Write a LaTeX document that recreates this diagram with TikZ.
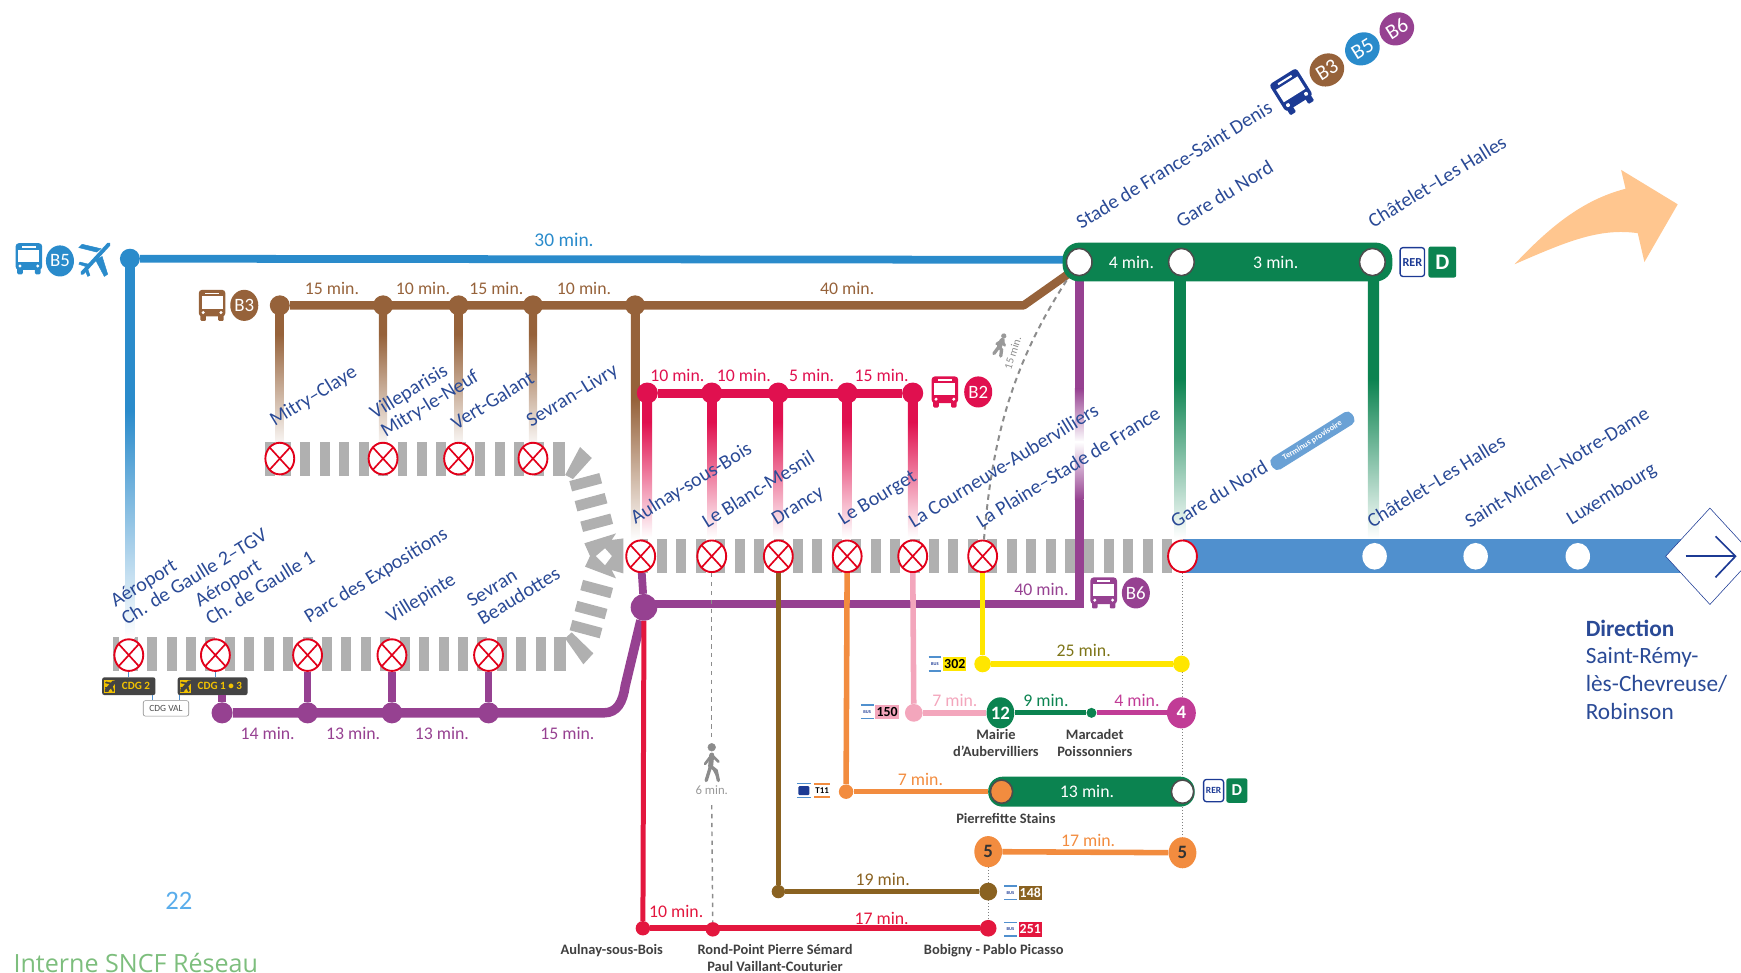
\documentclass[tikz,border=0pt]{standalone}
\usepackage{fontspec}
\setmainfont{Carlito}
\newfontfamily\footfont{Open Sans}
\usetikzlibrary{positioning,calc,backgrounds,shapes.geometric}

\definecolor{lineblue}{HTML}{2A8BCB}
\definecolor{barblue}{HTML}{5090CE}
\definecolor{linebrown}{HTML}{96623A}
\definecolor{linepink}{HTML}{E0104F}
\definecolor{linepurple}{HTML}{964191}
\definecolor{linegreen}{HTML}{0B8350}
\definecolor{stopred}{HTML}{E2001A}
\definecolor{linered}{HTML}{E3173E}
\definecolor{linemagenta}{HTML}{C13C96}
\definecolor{lineorange}{HTML}{F28C3F}
\definecolor{darkbrown}{HTML}{8A6221}
\definecolor{palepink}{HTML}{F3A6BC}
\definecolor{lineyellow}{HTML}{FFE600}
\definecolor{olivetext}{HTML}{7E7518}
\definecolor{stripegray}{HTML}{B0B0B0}
\definecolor{navytext}{HTML}{2A4A96}
\definecolor{busnavy}{HTML}{1C3A94}
\definecolor{peach}{HTML}{FFC68F}
\definecolor{cdgdark}{HTML}{444444}
\definecolor{cdgyellow}{HTML}{F2C200}
\definecolor{pagenum}{HTML}{5AADEB}
\definecolor{footgreen}{HTML}{7DBE7D}
\colorlet{fadebase}{black}

\pgfdeclareverticalshading[fadebase]{fadeshort}{100bp}{color(0bp)=(white); color(25bp)=(white); color(65bp)=(fadebase); color(100bp)=(fadebase)}
\pgfdeclareverticalshading[fadebase]{fadelong}{100bp}{color(0bp)=(white); color(25bp)=(white); color(55bp)=(fadebase); color(100bp)=(fadebase)}

\tikzset{
	stripe/.style={rectangle, fill=stripegray, minimum width=9pt, minimum height=30.5pt, inner sep=0},
	closedstop/.style={ellipse, draw=stopred, line width=1.7pt, fill=white,
		minimum width=26pt, minimum height=28.5pt, inner sep=0,
		path picture={\draw[stopred, line width=1.5pt]
			(path picture bounding box.north west) -- (path picture bounding box.south east)
			(path picture bounding box.north east) -- (path picture bounding box.south west);}},
	linedot/.style={circle, minimum size=18pt, inner sep=0, fill=#1},
	ring/.style={ellipse, draw=black!70, line width=1.4pt, fill=white, minimum width=23pt, minimum height=24.5pt, inner sep=0},
	whitedot/.style={ellipse, fill=white, minimum width=22pt, minimum height=24pt, inner sep=0},
	linecircle/.style={ellipse, fill=#1, text=white, minimum width=25pt, minimum height=28pt, inner sep=0,
		font=\fontsize{17}{17}\selectfont},
	stationlabel/.style={anchor=south west, rotate=31.5, inner sep=0, align=left, text=navytext,
		font=\fontsize{18}{19}\selectfont},
	timelabel/.style={inner sep=0, font=\fontsize{16}{17}\selectfont},
	smalllabel/.style={inner sep=0, align=center, text=black!75, font=\bfseries\fontsize{13}{15.5}\selectfont},
	greenbar/.style={rectangle, rounded corners=15pt, fill=linegreen, inner sep=0},
	rerbadge/.style={rectangle, rounded corners=2.5pt, draw=busnavy, line width=1.2pt, fill=white, text=busnavy, inner sep=0,
		font=\bfseries\fontsize{11}{11}\selectfont},
	dbadge/.style={rectangle, rounded corners=2pt, fill=linegreen, text=white, inner sep=0,
		font=\bfseries\fontsize{20}{20}\selectfont},
	busmark/.style={rectangle, inner sep=0, minimum width=11pt, minimum height=12pt, text=busnavy,
		font=\bfseries\fontsize{4}{4}\selectfont},
	busnum/.style={rectangle, inner sep=0, minimum width=21pt, minimum height=13pt,
		font=\bfseries\fontsize{12.5}{13}\selectfont},
	cdgbadge/.style={rectangle, rounded corners=2pt, fill=cdgdark, text=cdgyellow, inner sep=0, minimum height=16pt,
		font=\bfseries\fontsize{10}{10}\selectfont},
	cdgicon/.style={rectangle, fill=cdgyellow, inner sep=0, minimum width=10pt, minimum height=12pt},
	buspic/.pic={
		\fill[pic actions, rounded corners=3pt] (-12,-14) rectangle (12,10);
		\fill[pic actions, rounded corners=1pt] (-10.5,8) rectangle (-5.5,14);
		\fill[pic actions, rounded corners=1pt] (5.5,8) rectangle (10.5,14);
		\fill[white] (-9.5,-8) rectangle (9.5,3);
		\fill[white] (-6,-11.5) rectangle (6,-10);
		\fill[white] (-8,6.5) circle (1.5);
		\fill[white] (8,6.5) circle (1.5);
	},
	walkerpic/.pic={
		\fill[pic actions] (0,-15) circle (3.5);
		\draw[pic actions, line width=4.5pt, line cap=round] (0,-8) -- (-1,2);
		\draw[pic actions, line width=3pt, line cap=round] (-1,2) -- (-5,15) (-1,2) -- (4,6) -- (6,15);
		\draw[pic actions, line width=2.4pt, line cap=round] (0,-8) -- (-6,0) (0,-8) -- (6,-2);
	},
	planepic/.pic={
		\draw[pic actions, line width=3.5pt, line cap=round] (-11,13) -- (13,-13);
		\fill[pic actions] (2,-6) -- (-14,-10) -- (-11,-13) -- (6,-9) -- cycle;
		\fill[pic actions] (7,-2) -- (12,14) -- (9,16) -- (1,1) -- cycle;
		\fill[pic actions] (-8,7) -- (-14,5) -- (-13,3) -- (-5,5) -- cycle;
		\fill[pic actions] (-6,9) -- (-4,15) -- (-6,16) -- (-9,9) -- cycle;
	},
}

% fading connector: shading, colour, half width, upper node, lower node
\newcommand{\fadeline}[5]{
	\colorlet{fadebase}{#2}
	\shade[shading=#1] ($(#4)+(-#3,0)$) rectangle ($(#5)+(#3,0)$);
}

% bus badge: name, position, box colour, text colour, number
\newcommand{\busbadge}[5]{
	\node[busmark] (Mark-#1) at (#2) {BUS};
	\draw[barblue, line width=1.4pt] (Mark-#1.north west) -- (Mark-#1.north east);
	\draw[barblue, line width=1.4pt] (Mark-#1.south west) -- (Mark-#1.south east);
	\node[busnum, fill=#3, text=#4, right=1.5pt of Mark-#1] (Num-#1) {#5};
}

\begin{document}
\begin{tikzpicture}[x=1pt, y=-1pt]
\useasboundingbox (0,0) rectangle (1568,876);

% Stripes of the three platforms
\foreach \i in {0,...,13}
{
	\node[stripe] (StripeA-\i) at (257.5+17.5*\i,413) {};
}
\node[stripe] (StripeA-first) at (243.5,413) {};
\node[stripe, minimum width=11pt] (StripeA-last) at (503.5,413) {};
\foreach \i in {0,...,27}
{
	\node[stripe] (StripeB-\i) at (1051.2-17.5*\i,501) {};
}
\foreach \i in {1,...,22}
{
	\node[stripe] (StripeC-\i) at (504.5-17.5*\i,589) {};
}
\node[stripe, minimum width=5pt] (StripeC-first) at (104.5,589) {};
\node[stripe, minimum width=11pt] (StripeC-last) at (504,589) {};

% Curved part of the platforms
\foreach \i/\x/\y/\a in {1/527.5/434.3/15, 2/532.3/452.3/15, 3/537.4/470.8/15,
	4/537.4/530.5/-15, 5/532.3/549.4/-15, 6/527.8/566.6/-15}
{
	\node[stripe, rotate=\a, minimum width=28pt, minimum height=9.6pt] (Curve-\i) at (\x,\y) {};
}
\fill[stripegray] (522.4,402.6) -- (533,412.5) -- (516,431.4) -- (509,427.8) -- cycle;
\fill[stripegray] (514.9,569.5) -- (534.4,588.4) -- (525.4,598.3) -- (508.9,574.9) -- cycle;
\fill[stripegray] (526.3,489.3) -- (554.8,480.4) -- (550.9,486.3) -- (561.4,484.9) -- (561.4,516.4) -- (550.9,513.4)
	-- (554.8,520.9) -- (526.9,510.4) -- (531.4,500.8) -- cycle;
\fill[white] (544.9,493.9) -- (551,500.8) -- (544.9,508.9) -- (536.8,500.8) -- cycle;

% Blue bar towards the south
\node[rectangle, fill=barblue, minimum width=450pt, minimum height=31pt, inner sep=0] (BlueBar) at (1290,501) {};
\node[diamond, draw=busnavy, line width=.5pt, fill=white, minimum width=80pt, minimum height=87pt, inner sep=0, aspect=1] (DirBox) at (1540,501) {};
\coordinate (DirStart) at (1518,501);
\coordinate (DirTip) at (1563,501);
\coordinate (DirHeadA) at (1545,483);
\coordinate (DirHeadB) at (1545,520);
\draw[busnavy, line width=1.5pt] (DirStart) -- (DirTip);
\draw[busnavy, line width=1.5pt] (DirHeadA) -- (DirTip) -- (DirHeadB);

% B5
\node[linedot=lineblue] (Blue-1) at (117,233) {};
\coordinate (BlueEnd) at (965,234);
\coordinate (BlueLow) at (117,575);
\draw[lineblue, line width=7pt] (Blue-1) -- (BlueEnd);
\fadeline{fadelong}{lineblue}{4}{Blue-1}{BlueLow}

% B3
\foreach \i/\x in {1/252,2/345,3/413,4/480,5/572}
{
	\node[linedot=linebrown] (Brown-\i) at (\x,275) {};
}
\coordinate (BrownBend) at (922,275);
\coordinate (BrownEnd) at (966,244);
\draw[linebrown, line width=7.5pt, line join=round] (Brown-1) -- (BrownBend) -- (BrownEnd);
\foreach \i/\x in {1/252,2/345,3/413,4/480}
{
	\coordinate (BrownLow-\i) at (\x,405);
	\fadeline{fadeshort}{linebrown}{3.75}{Brown-\i}{BrownLow-\i}
}
\coordinate (BrownLow-5) at (572,487);
\fadeline{fadelong}{linebrown}{3.75}{Brown-5}{BrownLow-5}

% B2
\foreach \i/\x in {1/583,2/641,3/701,4/763,5/822}
{
	\node[linedot=linepink, minimum size=19pt] (Pink-\i) at (\x,354) {};
	\coordinate (PinkLow-\i) at (\x,484);
	\fadeline{fadeshort}{linepink}{4.25}{Pink-\i}{PinkLow-\i}
}
\draw[linepink, line width=8pt] (Pink-1) -- (Pink-5);

% Green connections to the RER D
\foreach \i/\x in {1/1063,2/1237}
{
	\coordinate (GreenTop-\i) at (\x,245);
	\coordinate (GreenLow-\i) at (\x,485);
	\fadeline{fadelong}{linegreen}{5}{GreenTop-\i}{GreenLow-\i}
}

% Stations on the platforms
\foreach \i/\x in {1/252,2/345,3/413,4/480}
{
	\node[closedstop] (StopA-\i) at (\x,413) {};
}
\foreach \i/\x in {1/577,2/641,3/701,4/763,5/822,6/885}
{
	\node[closedstop] (StopB-\i) at (\x,501) {};
}
\foreach \i/\x in {1/116,2/194,3/277,4/353,5/440}
{
	\node[closedstop] (StopC-\i) at (\x,590) {};
}
\node[ellipse, draw=stopred, line width=1.7pt, fill=white, minimum width=26pt, minimum height=28.5pt, inner sep=0] (GareOpen) at (1065,501) {};
\foreach \i/\x in {1/1238,2/1329,3/1421}
{
	\node[whitedot] (White-\i) at (\x,501) {};
}

% B6
\coordinate (PurpleTop) at (972,245);
\coordinate (PurpleFadeA) at (972,350);
\coordinate (PurpleMid) at (972,398);
\coordinate (PurpleFadeB) at (972,450);
\coordinate (PurpleCorner) at (972,544);
\node[linedot=linepurple, minimum size=24pt] (PurpleBig) at (580,547) {};
\draw[linepurple, line width=8pt] (PurpleTop) -- (PurpleFadeA);
\shade[top color=linepurple, bottom color=white] ($(PurpleFadeA)+(-4,0)$) rectangle ($(PurpleMid)+(4,0)$);
\shade[top color=white, bottom color=linepurple] ($(PurpleMid)+(-4,0)$) rectangle ($(PurpleFadeB)+(4,0)$);
\draw[linepurple, line width=8pt, line join=miter] (PurpleFadeB) -- (PurpleCorner) -- (PurpleCorner -| PurpleBig);
\draw[linepurple, line width=7pt] (StopB-1) -- (PurpleBig);
\foreach \i/\x in {1/200,2/277,3/353,4/440}
{
	\node[linedot=linepurple, minimum size=19pt] (Purple-\i) at (\x,642) {};
}
\coordinate (PurpleBendA) at (544,642);
\coordinate (PurpleBendB) at (563,618);
\draw[linepurple, line width=8.5pt] (Purple-1) -- (PurpleBendA) .. controls (556,642) and (561,632) .. (PurpleBendB) -- (PurpleBig);
\foreach \i/\j in {3/2,4/3,5/4}
{
	\draw[linepurple, line width=7pt] (StopC-\i) -- (Purple-\j);
}

% Lower lines
\node[linedot=linered, minimum size=13pt] (Red-1) at (579,836) {};
\node[linedot=linered, minimum size=13pt] (Red-2) at (642,837) {};
\node[linedot=linered, minimum size=15pt] (Red-3) at (890,836) {};
\node[linedot=darkbrown, minimum size=12pt] (Dark-1) at (701,803) {};
\node[linedot=darkbrown, minimum size=16pt] (Dark-2) at (890,803) {};
\node[linedot=lineorange, minimum size=13pt] (Orange-1) at (762,713) {};
\node[linedot=palepink, minimum size=16pt] (Pale-1) at (823,642) {};
\node[linedot=lineyellow, minimum size=15pt] (Yellow-1) at (885,598) {};
\node[linedot=lineyellow, minimum size=15pt] (Yellow-2) at (1064,598) {};
\node[linecircle=linegreen] (Metro-12) at (901,642) {\bfseries 12};
\node[linecircle=linemagenta, minimum width=26pt] (Metro-4) at (1064,642) {\bfseries 4};
\node[linedot=linegreen, minimum size=9pt] (Metro-mid) at (983,642) {};
\node[linecircle=lineorange, text=black!80] (Five-1) at (890,767) {\bfseries 5};
\node[linecircle=lineorange, text=black!80] (Five-2) at (1065,768) {\bfseries 5};

\begin{scope}[on background layer]
	\draw[black!50, line width=.7pt, dotted] (GareOpen) -- (Five-2);
	\draw[black!50, line width=.7pt, dotted] (Five-1) -- (Red-3);
\end{scope}

\draw[linered, line width=4.5pt] (PurpleBig) -- (Red-1);
\draw[linered, line width=5pt] (Red-1) -- (Red-3);
\draw[darkbrown, line width=5pt] (StopB-3) -- (Dark-1);
\draw[darkbrown, line width=5pt] (Dark-1) -- (Dark-2);
\draw[lineorange, line width=5pt] (StopB-4) -- (Orange-1);
\draw[palepink, line width=5pt] (StopB-5) -- (Pale-1);
\draw[palepink, line width=5pt] (Pale-1) -- (Metro-12);
\draw[lineyellow, line width=5pt] (StopB-6) -- (Yellow-1);
\draw[lineyellow, line width=5pt] (Yellow-1) -- (Yellow-2);
\draw[linegreen, line width=4.5pt] (Metro-12) -- (Metro-mid);
\draw[linemagenta, line width=4.5pt] (Metro-mid) -- (Metro-4);
\draw[lineorange, line width=5pt] (Five-1) -- (Five-2);

% Green bars
\node[greenbar, minimum width=297pt, minimum height=35pt] (GreenTopBar) at (1105.5,236) {};
\node[ring] (Ring-1) at (972,236) {};
\node[ring] (Ring-2) at (1064,236) {};
\node[ring] (Ring-3) at (1236,236) {};
\node[greenbar, minimum width=186pt, minimum height=27pt, rounded corners=13pt] (GreenLowBar) at (983,713) {};
\node[ring, minimum width=20pt, minimum height=21pt, fill=lineorange] (Ring-4) at (902,713) {};
\node[ring, minimum width=20pt, minimum height=21pt] (Ring-5) at (1065,713) {};
\draw[lineorange, line width=5pt] (Orange-1) -- (GreenLowBar);

% Walking links
\coordinate (WalkTop) at (641,665);
\coordinate (WalkBottom) at (641,725);
\coordinate (WalkEnd) at (961,252);
\draw[black!45, line width=1.3pt, dash pattern=on 4pt off 4pt] (StopB-2) -- (WalkTop);
\draw[black!45, line width=1.3pt, dash pattern=on 4pt off 4pt] (WalkBottom) -- (Red-2);
\draw[black!45, line width=1.8pt, dash pattern=on 5pt off 4pt] (StopB-6) .. controls (893,400) and (910,330) .. (WalkEnd);
\pic[draw=black!45, fill=black!45] (WalkA) at (641,688) {walkerpic};
\pic[draw=black!40, fill=black!40, scale=.6, rotate=-20] (WalkB) at (901,311) {walkerpic};
\node[inner sep=0, text=black!40, font=\fontsize{11.5}{12}\selectfont] (WalkTimeA) at (641,712) {6 min.};
\node[inner sep=0, text=black!45, rotate=72, font=\fontsize{10}{10}\selectfont] (WalkTimeB) at (912,318) {15 min.};

% Peach arrow
\fill[peach] (1364,238) .. controls (1395,205) and (1425,180) .. (1464,170) -- (1460,153) -- (1511,184)
	-- (1481,236) -- (1475,210) .. controls (1440,205) and (1410,218) .. cycle;

% Station names
\foreach \x/\y/\name [count=\i] in {974/207/{Stade de France-Saint Denis}, 1064/206/Gare du Nord, 1237/206/{Châtelet–Les Halles},
	249/387/Mitry–Claye, 349/397/{Villeparisis\\Mitry-le-Neuf}, 411/388/Vert-Galant, 480/388/Sevran–Livry,
	574/475/Aulnay-sous-Bois, 637/476/{Le Blanc-Mesnil}, 701/476/Drancy, 761/476/{Le Bourget},
	823/476/{La Courneuve-Aubervilliers}, 884/476/{La Plaine–Stade de France}, 1059/476/{Gare du Nord},
	1236/476/{Châtelet–Les Halles}, 1324/476/{Saint-Michel–Notre-Dame}, 1417/476/Luxembourg,
	114/564/{Aéroport\\Ch. de Gaulle 2–TGV}, 190/564/{Aéroport\\Ch. de Gaulle 1}, 280/564/{Parc des Expositions},
	354/564/Villepinte, 435/564/{Sevran\\Beaudottes}}
{
	\node[stationlabel] (Label-\i) at (\x,\y) {\name};
}
\node[rectangle, rounded corners=5pt, rotate=32, fill=barblue!85, text=white, inner sep=0, minimum width=86pt, minimum height=13pt,
	font=\bfseries\fontsize{7.5}{8}\selectfont] (TerminusBox) at (1182,397) {Terminus provisoire};

% Durations
\node[timelabel, text=lineblue, font=\fontsize{17.5}{18}\selectfont] (TimeBlue) at (508,216) {30 min.};
\foreach \x/\t [count=\i] in {299/15 min., 381/10 min., 447/15 min., 526/10 min., 763/40 min.}
{
	\node[timelabel, text=linebrown] (TimeBrown-\i) at (\x,260) {\t};
}
\foreach \x/\t [count=\i] in {610/10 min., 670/10 min., 731/5 min., 794/15 min.}
{
	\node[timelabel, text=linepink] (TimePink-\i) at (\x,338) {\t};
}
\foreach \x/\t [count=\i] in {241/14 min., 318/13 min., 398/13 min., 511/15 min.}
{
	\node[timelabel, text=linepurple] (TimePurple-\i) at (\x,661) {\t};
}
\node[timelabel, text=linepurple] (TimePurple-5) at (938,531) {40 min.};
\node[timelabel, text=white] (TimeGreen-1) at (1019,236) {4 min.};
\node[timelabel, text=white] (TimeGreen-2) at (1149,236) {3 min.};
\node[timelabel, text=white] (TimeGreen-3) at (979,713) {13 min.};
\node[timelabel, text=olivetext] (TimeYellow) at (976,586) {25 min.};
\node[timelabel, text=palepink] (TimePale) at (860,631) {7 min.};
\node[timelabel, text=linegreen] (TimeMetro-1) at (942,631) {9 min.};
\node[timelabel, text=linemagenta] (TimeMetro-2) at (1024,631) {4 min.};
\node[timelabel, text=lineorange] (TimeOrange-1) at (829,702) {7 min.};
\node[timelabel, text=lineorange] (TimeOrange-2) at (980,757) {17 min.};
\node[timelabel, text=darkbrown] (TimeDark) at (795,792) {19 min.};
\node[timelabel, text=linered] (TimeRed-1) at (609,821) {10 min.};
\node[timelabel, text=linered] (TimeRed-2) at (794,827) {17 min.};

% Small stop names
\node[smalllabel] (Small-1) at (897,669) {Mairie\\d’Aubervilliers};
\node[smalllabel] (Small-2) at (986,669) {Marcadet\\Poissonniers};
\node[smalllabel] (Small-3) at (906,737) {Pierrefitte Stains};
\node[smalllabel] (Small-4) at (551,856) {Aulnay-sous-Bois};
\node[smalllabel] (Small-5) at (698,863) {Rond-Point Pierre Sémard\\Paul Vaillant-Couturier};
\node[smalllabel] (Small-6) at (895,856) {Bobigny - Pablo Picasso};

% Bus pictograms and line numbers
\pic[fill=lineblue] (BusB5) at (26,233) {buspic};
\node[linecircle=lineblue] (NumB5) at (54,235) {B5};
\pic[draw=lineblue, fill=lineblue] (PlaneB5) at (85,233) {planepic};
\pic[fill=linebrown] (BusB3) at (191,275) {buspic};
\node[linecircle=linebrown] (NumB3) at (220,275) {B3};
\pic[fill=linepink] (BusB2) at (851,353) {buspic};
\node[linecircle=linepink] (NumB2) at (881,353) {B2};
\pic[fill=linepurple] (BusB6) at (994,534) {buspic};
\node[linecircle=linepurple] (NumB6) at (1023,534) {B6};
\pic[fill=busnavy, rotate=32, scale=1.2] (BusTop) at (1164,83) {buspic};
\node[linecircle=linebrown, minimum width=32pt, minimum height=29pt, rotate=32, font=\fontsize{19}{19}\selectfont] (TopB3) at (1195,63) {B3};
\node[linecircle=lineblue, minimum width=32pt, minimum height=29pt, rotate=32, font=\fontsize{19}{19}\selectfont] (TopB5) at (1227,44) {B5};
\node[linecircle=linepurple, minimum width=32pt, minimum height=29pt, rotate=32, font=\fontsize{19}{19}\selectfont] (TopB6) at (1258,26) {B6};

% RER badges
\node[rerbadge, minimum width=22pt, minimum height=26pt] (Rer-1) at (1272,236) {RER};
\node[dbadge, minimum width=25pt, minimum height=28pt] (RerD-1) at (1299,236) {D};
\node[rerbadge, minimum width=18pt, minimum height=20pt, font=\bfseries\fontsize{8.5}{9}\selectfont] (Rer-2) at (1093,712) {RER};
\node[dbadge, minimum width=19pt, minimum height=22pt, font=\bfseries\fontsize{15}{15}\selectfont] (RerD-2) at (1114,712) {D};

% Bus and tram badges
\busbadge{302}{842,598}{lineyellow}{black}{302}
\busbadge{150}{781,641}{palepink}{black}{150}
\busbadge{148}{910,804}{darkbrown}{white}{148}
\busbadge{251}{910,837}{linered}{white}{251}

\node[rectangle, inner sep=0, minimum width=12pt, minimum height=12pt] (TramMark) at (724,712) {};
\draw[barblue, line width=1.4pt] (TramMark.north west) -- (TramMark.north east);
\draw[barblue, line width=1.4pt] (TramMark.south west) -- (TramMark.south east);
\fill[busnavy, rounded corners=1pt] (719,708) rectangle (729,716);
\node[rectangle, inner sep=0, minimum width=14pt, minimum height=12pt, font=\bfseries\fontsize{8}{8}\selectfont, right=3pt of TramMark] (TramNum) {T11};
\draw[lineorange, line width=1.8pt] (TramNum.north west) -- (TramNum.north east);
\draw[lineorange, line width=1.8pt] (TramNum.south west) -- (TramNum.south east);

% CDG badges
\node[cdgbadge, minimum width=48pt] (Cdg-2) at (116,618) {\hspace{13pt}CDG 2};
\node[cdgbadge, minimum width=63pt] (Cdg-1) at (191.5,618) {\hspace{13pt}CDG 1 • 3};
\node[cdgicon, right=2pt of Cdg-2.west] (CdgIcon-2) {};
\node[cdgicon, right=2pt of Cdg-1.west] (CdgIcon-1) {};
\pic[draw=cdgdark, fill=cdgdark, scale=.3] (CdgPlane-2) at (CdgIcon-2) {planepic};
\pic[draw=cdgdark, fill=cdgdark, scale=.3] (CdgPlane-1) at (CdgIcon-1) {planepic};
\node[rectangle, rounded corners=2pt, draw=black!45, line width=.5pt, fill=white, text=black!70, inner sep=0,
	minimum width=41pt, minimum height=14pt, font=\fontsize{8.5}{9}\selectfont] (CdgVal) at (149.5,638) {CDG VAL};
\draw[barblue, line width=.7pt] (StopC-1) -- (Cdg-2.north -| StopC-1);
\draw[barblue, line width=.7pt] (StopC-2) -- (Cdg-1.north -| StopC-2);
\draw[barblue, line width=.7pt] (Cdg-2.south -| 137,0) -- (CdgVal.north -| 137,0);
\draw[barblue, line width=.7pt] (Cdg-1.south -| 162,0) -- (CdgVal.north -| 162,0);
\draw[linepurple, line width=7pt] (Cdg-1.south -| Purple-1) -- (Purple-1);

% Direction
\node[anchor=north west, inner sep=0, align=left, text=navytext, font=\fontsize{21}{25}\selectfont] (Direction) at (1428,558)
	{\textbf{Direction}\\Saint-Rémy-\\lès-Chevreuse/\\Robinson};

% Page number and footer
\node[inner sep=0, text=pagenum, font=\fontsize{24}{24}\selectfont] (PageNum) at (161,811) {22};
\node[anchor=west, inner sep=0, text=footgreen, font=\footfont\fontsize{22.6}{23}\selectfont] (Footer) at (12,867) {Interne SNCF Réseau};

\end{tikzpicture}
\end{document}
